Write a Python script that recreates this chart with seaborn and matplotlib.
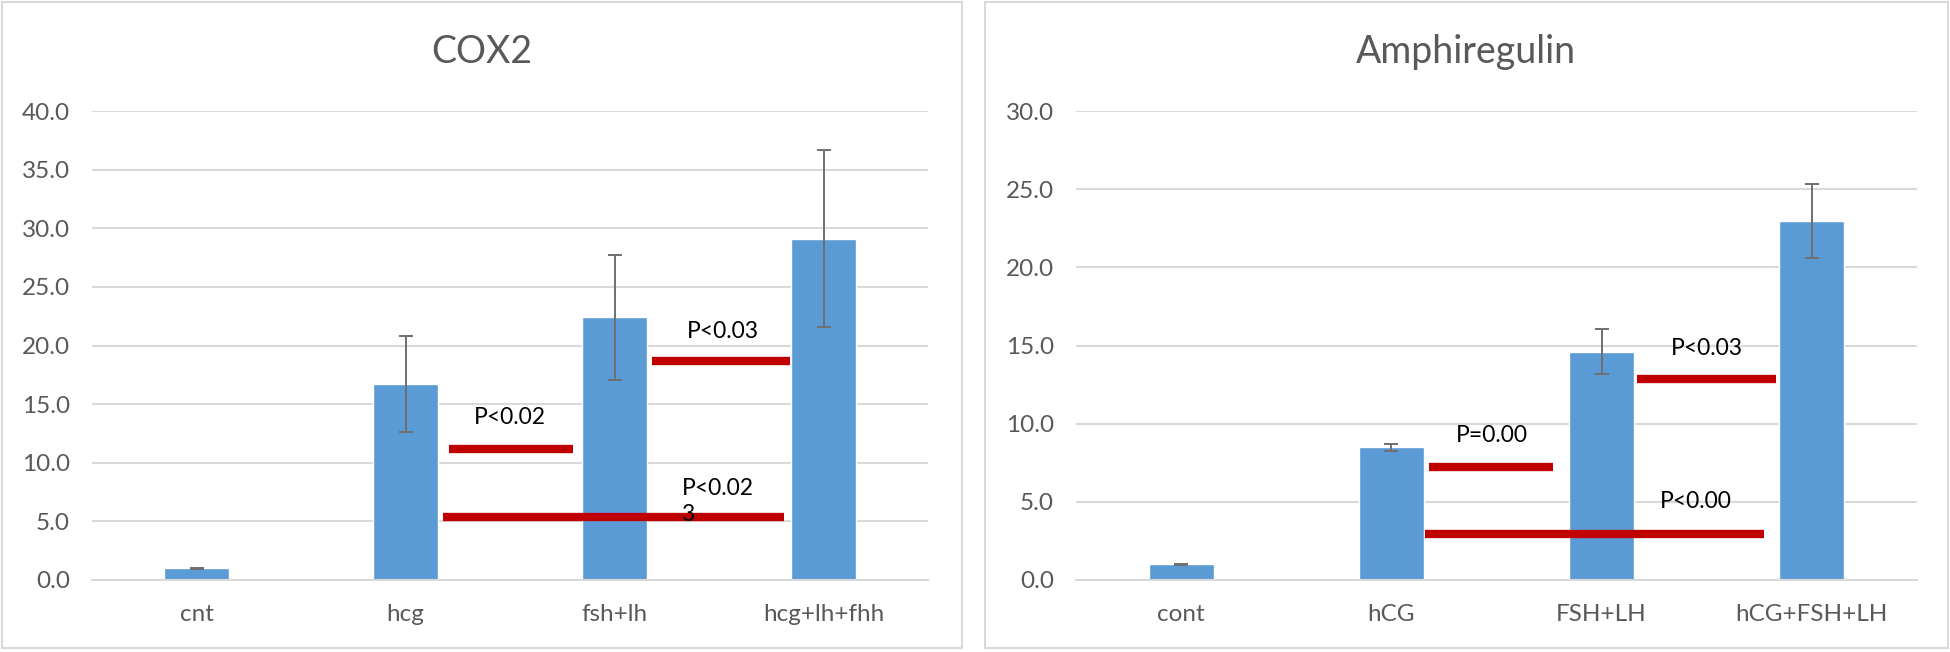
import numpy as np
import pandas as pd
import matplotlib
matplotlib.use("Agg")
import matplotlib.pyplot as plt
from matplotlib.patches import Rectangle
import seaborn as sns

# COX2 panel
cox_cats = ["cnt", "hcg", "fsh+lh", "hcg+lh+fhh"]
cox_vals = [1.0, 16.7, 22.4, 29.1]
cox_err = [0.05, 4.1, 5.35, 7.55]
cox_lines_y = [11.2, 18.65, 5.4]
cox_lines_x0 = [1.21, 2.18, 1.18]
cox_lines_x1 = [1.80, 2.84, 2.81]
cox_labels = ["P<0.02", "P<0.03", "P<0.02\n3"]
cox_label_x = [1.50, 2.52, 2.32]
cox_label_y = [13.9, 21.2, 6.7]

# Amphiregulin panel
amp_cats = ["cont", "hCG", "FSH+LH", "hCG+FSH+LH"]
amp_vals = [1.0, 8.5, 14.6, 22.95]
amp_err = [0.03, 0.23, 1.43, 2.36]
amp_lines_y = [7.25, 12.85, 2.95]
amp_lines_x0 = [1.18, 2.17, 1.16]
amp_lines_x1 = [1.77, 2.83, 2.77]
amp_labels = ["P=0.00", "P<0.03", "P<0.00"]
amp_label_x = [1.48, 2.50, 2.45]
amp_label_y = [9.26, 14.8, 5.04]

BAR = "#5B9BD5"
RED = "#C00000"
GREY = "#595959"
GRID = "#D9D9D9"

sns.set_style("white")
plt.rcParams["font.family"] = ["Lato", "DejaVu Sans"]

fig = plt.figure(figsize=(19.5, 6.52), dpi=100)

# panel borders
for x0, x1 in [(2, 962), (985, 1948)]:
    fig.patches.append(Rectangle((x0 / 1950, 4 / 652), (x1 - x0) / 1950, 646 / 652,
                                 transform=fig.transFigure, fill=False,
                                 edgecolor=GRID, linewidth=1.5))


def draw_panel(ax, cats, vals, err, ymax, ly, lx0, lx1, labels, tx, ty, left_ix=None):
    df = pd.DataFrame({"cat": cats, "val": vals})
    sns.barplot(data=df, x="cat", y="val", color=BAR, saturation=1, width=0.31,
                errorbar=None, ax=ax, zorder=2)
    ax.errorbar(np.arange(len(cats)), vals, yerr=err, fmt="none", ecolor="#6F6F6F",
                elinewidth=1.4, capsize=5, capthick=1.4, zorder=3)
    ax.hlines(ly, lx0, lx1, color=RED, linewidth=6, zorder=4)
    for i, (s, x, y) in enumerate(zip(labels, tx, ty)):
        ha = "left" if i == left_ix else "center"
        ax.text(x, y, s, ha=ha, va="center", fontsize=16.5, color="black",
                linespacing=1.25, zorder=5)
    ax.set_xlim(-0.5, len(cats) - 0.5)
    ax.set_ylim(0, ymax)
    ax.set_yticks(np.arange(0, ymax + 0.1, 5))
    ax.set_yticklabels([f"{v:.1f}" for v in np.arange(0, ymax + 0.1, 5)])
    ax.yaxis.grid(True, color=GRID, linewidth=1.5)
    ax.set_axisbelow(True)
    for s in ["top", "right", "left"]:
        ax.spines[s].set_visible(False)
    ax.spines["bottom"].set_color(GRID)
    ax.spines["bottom"].set_linewidth(1.5)
    ax.tick_params(axis="both", length=0, labelsize=17.5, labelcolor=GREY)
    ax.tick_params(axis="y", pad=16)
    ax.tick_params(axis="x", pad=17)
    ax.set_xlabel("")
    ax.set_ylabel("")


ax1 = fig.add_axes([92 / 1950, 72 / 652, 836 / 1950, 469 / 652])
draw_panel(ax1, cox_cats, cox_vals, cox_err, 40, cox_lines_y, cox_lines_x0, cox_lines_x1,
           cox_labels, cox_label_x, cox_label_y, left_ix=2)

ax2 = fig.add_axes([1076 / 1950, 72 / 652, 841 / 1950, 469 / 652])
draw_panel(ax2, amp_cats, amp_vals, amp_err, 30, amp_lines_y, amp_lines_x0, amp_lines_x1,
           amp_labels, amp_label_x, amp_label_y)

fig.text(482 / 1950, 1 - 52 / 652, "COX2", ha="center", va="center", fontsize=27, color=GREY)
fig.text(1466 / 1950, 1 - 52 / 652, "Amphiregulin", ha="center", va="center", fontsize=27, color=GREY)

fig.savefig("out.png", dpi=100)
